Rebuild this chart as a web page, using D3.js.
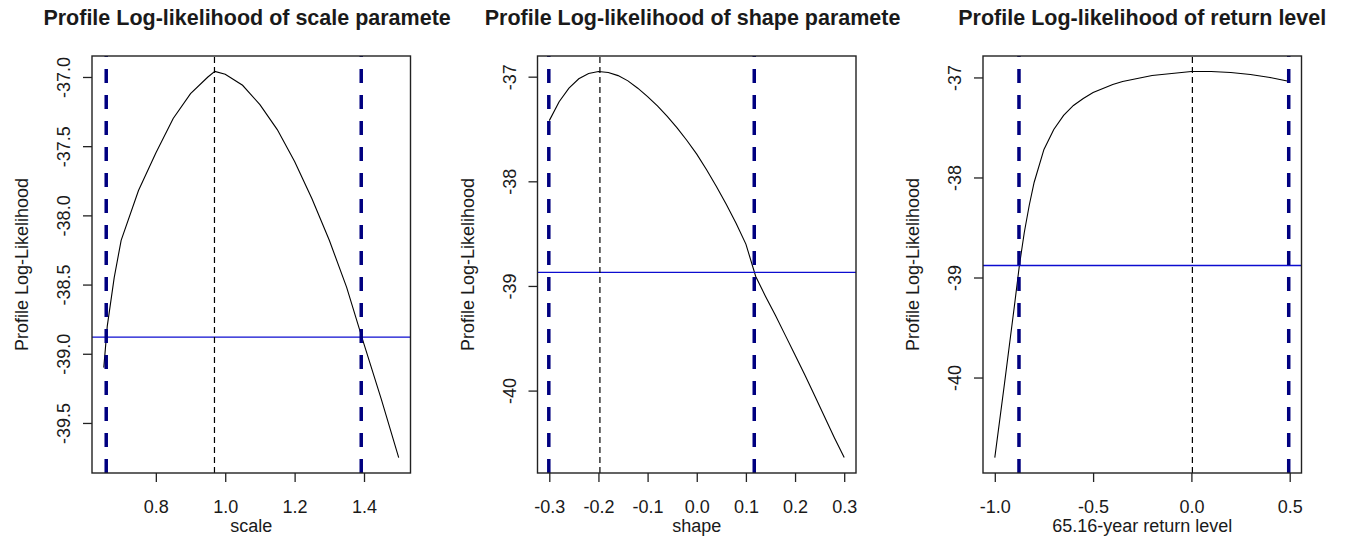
<!DOCTYPE html>
<html>
<head>
<meta charset="utf-8">
<script src="https://cdn.jsdelivr.net/npm/d3@7"></script>
<style>
  body { margin: 0; background: #fff; }
  svg text { font-family: "Liberation Sans", Arial, sans-serif; fill: #1a1a1a; }
  .title { font-weight: bold; font-size: 21.5px; }
  .tick text { font-size: 18px; }
  .axis-label { font-size: 18px; }
</style>
</head>
<body>
<div id="chart"></div>
<script>
// ---- data ----

// panel 1: scale parameter
const scaleX  = [0.65, 0.66, 0.68, 0.70, 0.75, 0.80, 0.85, 0.90, 0.95, 0.97, 1.00, 1.05, 1.10, 1.15, 1.20, 1.25, 1.30, 1.35, 1.40, 1.45, 1.50];
const scaleLL = [-39.10, -38.80, -38.45, -38.18, -37.82, -37.55, -37.30, -37.12, -37.00, -36.96, -36.98, -37.06, -37.20, -37.38, -37.61, -37.88, -38.18, -38.52, -38.93, -39.33, -39.75];
const scaleCI = [0.657, 1.392];
const scaleMLE = 0.969;
const scaleCut = -38.88;

// panel 2: shape parameter
const shapeX  = [-0.30, -0.28, -0.26, -0.24, -0.22, -0.20, -0.18, -0.16, -0.14, -0.12, -0.10, -0.08, -0.06, -0.04, -0.02, 0.00, 0.02, 0.04, 0.06, 0.08, 0.10, 0.12, 0.14, 0.16, 0.18, 0.20, 0.22, 0.24, 0.26, 0.28, 0.30];
const shapeLL = [-37.42, -37.24, -37.11, -37.02, -36.97, -36.95, -36.96, -36.99, -37.04, -37.11, -37.19, -37.28, -37.38, -37.49, -37.61, -37.74, -37.89, -38.05, -38.22, -38.40, -38.60, -38.91, -39.10, -39.28, -39.47, -39.66, -39.85, -40.05, -40.25, -40.45, -40.64];
const shapeCI = [-0.301, 0.117];
const shapeMLE = -0.197;
const shapeCut = -38.87;

// panel 3: return level
const retX  = [-1.000, -0.950, -0.900, -0.875, -0.850, -0.825, -0.800, -0.750, -0.700, -0.650, -0.600, -0.550, -0.500, -0.450, -0.400, -0.350, -0.300, -0.250, -0.200, -0.100, 0.000, 0.100, 0.200, 0.300, 0.400, 0.450, 0.500];
const retLL = [-40.80, -40.05, -39.28, -38.88, -38.55, -38.28, -38.05, -37.72, -37.52, -37.38, -37.28, -37.21, -37.15, -37.11, -37.07, -37.04, -37.02, -37.00, -36.98, -36.96, -36.94, -36.94, -36.95, -36.97, -37.00, -37.02, -37.04];
const retCI = [-0.877, 0.495];
const retMLE = 0.005;
const retCut = -38.88;

// titles (as R would draw them) and axis labels
const titles = [
  'Profile Log-likelihood of scale parameter',
  'Profile Log-likelihood of shape parameter',
  'Profile Log-likelihood of return level'
];
const xLabels = ['scale', 'shape', '65.16-year return level'];
const yLabel = 'Profile Log-Likelihood';

// tick values and their labels
const scaleXTicks = [0.8, 1.0, 1.2, 1.4];
const scaleXTickLabels = ['0.8', '1.0', '1.2', '1.4'];
const scaleYTicks = [-37.0, -37.5, -38.0, -38.5, -39.0, -39.5];
const scaleYTickLabels = ['-37.0', '-37.5', '-38.0', '-38.5', '-39.0', '-39.5'];
const shapeXTicks = [-0.3, -0.2, -0.1, 0.0, 0.1, 0.2, 0.3];
const shapeXTickLabels = ['-0.3', '-0.2', '-0.1', '0.0', '0.1', '0.2', '0.3'];
const shapeYTicks = [-37, -38, -39, -40];
const shapeYTickLabels = ['-37', '-38', '-39', '-40'];
const retXTicks = [-1.0, -0.5, 0.0, 0.5];
const retXTickLabels = ['-1.0', '-0.5', '0.0', '0.5'];
const retYTicks = [-37, -38, -39, -40];
const retYTickLabels = ['-37', '-38', '-39', '-40'];

// ---- drawing ----

class ProfilePlot {

  constructor(_config, _data) {
    this.config = {
      svg: _config.svg,
      left: _config.left,
      width: _config.width || 318.5,
      top: 56,
      height: 417,
      tickSize: 9,
      title: _config.title,
      xLabel: _config.xLabel,
      xTicks: _config.xTicks,
      xTickLabels: _config.xTickLabels,
      yTicks: _config.yTicks,
      yTickLabels: _config.yTickLabels,
      titleLimit: _config.titleLimit
    };
    this.data = _data;
    this.initVis();
  }

  initVis() {
    let vis = this;
    const c = vis.config;

    vis.chart = c.svg.append('g')
      .attr('transform', `translate(${c.left},${c.top})`);

    // R style ranges: data extent padded by 4% on each side
    const pad = ext => {
      const r = ext[1] - ext[0];
      return [ext[0] - 0.04 * r, ext[1] + 0.04 * r];
    };
    vis.xScale = d3.scaleLinear()
      .domain(pad(d3.extent(vis.data.x)))
      .range([0, c.width]);
    vis.yScale = d3.scaleLinear()
      .domain(pad(d3.extent(vis.data.ll)))
      .range([c.height, 0]);

    vis.renderVis();
  }

  renderVis() {
    let vis = this;
    const c = vis.config;
    const d = vis.data;

    // profile curve
    const pts = d.x.map((x, i) => [x, d.ll[i]]);
    vis.chart.append('path')
      .datum(pts)
      .attr('fill', 'none')
      .attr('stroke', '#000')
      .attr('stroke-width', 1.1)
      .attr('d', d3.line().x(p => vis.xScale(p[0])).y(p => vis.yScale(p[1])));

    // cut-off line (max - chisq/2)
    vis.chart.append('line')
      .attr('x1', 0).attr('x2', c.width)
      .attr('y1', vis.yScale(d.cut)).attr('y2', vis.yScale(d.cut))
      .attr('stroke', '#0c0cd0')
      .attr('stroke-width', 1.4);

    // MLE line, drawn bottom-up like R
    vis.chart.append('line')
      .attr('x1', vis.xScale(d.mle)).attr('x2', vis.xScale(d.mle))
      .attr('y1', c.height).attr('y2', 0)
      .attr('stroke', '#000')
      .attr('stroke-width', 1.2)
      .attr('stroke-dasharray', '6,4');

    // confidence bounds
    vis.chart.selectAll('.ci')
      .data(d.ci)
      .join('line')
      .attr('class', 'ci')
      .attr('x1', v => vis.xScale(v)).attr('x2', v => vis.xScale(v))
      .attr('y1', c.height).attr('y2', 0)
      .attr('stroke', '#000080')
      .attr('stroke-width', 3.5)
      .attr('stroke-dasharray', '14,12');

    // axes
    const xAxis = d3.axisBottom(vis.xScale)
      .tickValues(c.xTicks)
      .tickFormat((v, i) => c.xTickLabels[i])
      .tickSize(c.tickSize);
    vis.chart.append('g')
      .attr('transform', `translate(0,${c.height})`)
      .call(xAxis)
      .call(g => g.select('.domain').remove())
      .call(g => g.selectAll('.tick line').attr('stroke', '#222').attr('stroke-width', 1.3))
      .call(g => g.selectAll('.tick text').attr('dy', 0).attr('y', 40));

    const yAxis = d3.axisLeft(vis.yScale)
      .tickValues(c.yTicks)
      .tickFormat((v, i) => c.yTickLabels[i])
      .tickSize(c.tickSize);
    vis.chart.append('g')
      .call(yAxis)
      .call(g => g.select('.domain').remove())
      .call(g => g.selectAll('.tick line').attr('stroke', '#222').attr('stroke-width', 1.3))
      .call(g => g.selectAll('.tick text')
        .attr('x', null).attr('dy', null)
        .attr('text-anchor', 'middle')
        .attr('transform', 'translate(-22,0) rotate(-90)'));

    // box
    vis.chart.append('rect')
      .attr('width', c.width).attr('height', c.height)
      .attr('fill', 'none')
      .attr('stroke', '#222')
      .attr('stroke-width', 1.4);

    // axis labels
    vis.chart.append('text')
      .attr('class', 'axis-label')
      .attr('text-anchor', 'middle')
      .attr('x', c.width / 2)
      .attr('y', c.height + 59)
      .text(c.xLabel);

    vis.chart.append('text')
      .attr('class', 'axis-label')
      .attr('text-anchor', 'middle')
      .attr('transform', `translate(-64,${c.height / 2}) rotate(-90)`)
      .text(yLabel);

    // title centred over the plot; characters past the figure edge are dropped
    const t = vis.chart.append('text')
      .attr('class', 'title')
      .attr('y', -31)
      .text(c.title);
    const fullW = t.node().getComputedTextLength();
    const x0 = c.width / 2 - fullW / 2;
    let shown = c.title;
    t.attr('x', x0);
    while (x0 + t.node().getComputedTextLength() > c.titleLimit && shown.length > 1) {
      shown = shown.slice(0, -1);
      t.text(shown);
    }
  }
}

const W = 1346, H = 537;
const svg = d3.select('#chart').append('svg')
  .attr('width', W)
  .attr('height', H);

const panelLefts = [92, 537.5, 983];

new ProfilePlot({
  svg, left: panelLefts[0], title: titles[0], xLabel: xLabels[0],
  xTicks: scaleXTicks, xTickLabels: scaleXTickLabels,
  yTicks: scaleYTicks, yTickLabels: scaleYTickLabels,
  titleLimit: 363
}, { x: scaleX, ll: scaleLL, ci: scaleCI, mle: scaleMLE, cut: scaleCut });

new ProfilePlot({
  svg, left: panelLefts[1], title: titles[1], xLabel: xLabels[1],
  xTicks: shapeXTicks, xTickLabels: shapeXTickLabels,
  yTicks: shapeYTicks, yTickLabels: shapeYTickLabels,
  titleLimit: 363
}, { x: shapeX, ll: shapeLL, ci: shapeCI, mle: shapeMLE, cut: shapeCut });

new ProfilePlot({
  svg, left: panelLefts[2], title: titles[2], xLabel: xLabels[2],
  xTicks: retXTicks, xTickLabels: retXTickLabels,
  yTicks: retYTicks, yTickLabels: retYTickLabels,
  titleLimit: 363
}, { x: retX, ll: retLL, ci: retCI, mle: retMLE, cut: retCut });
</script>
</body>
</html>
